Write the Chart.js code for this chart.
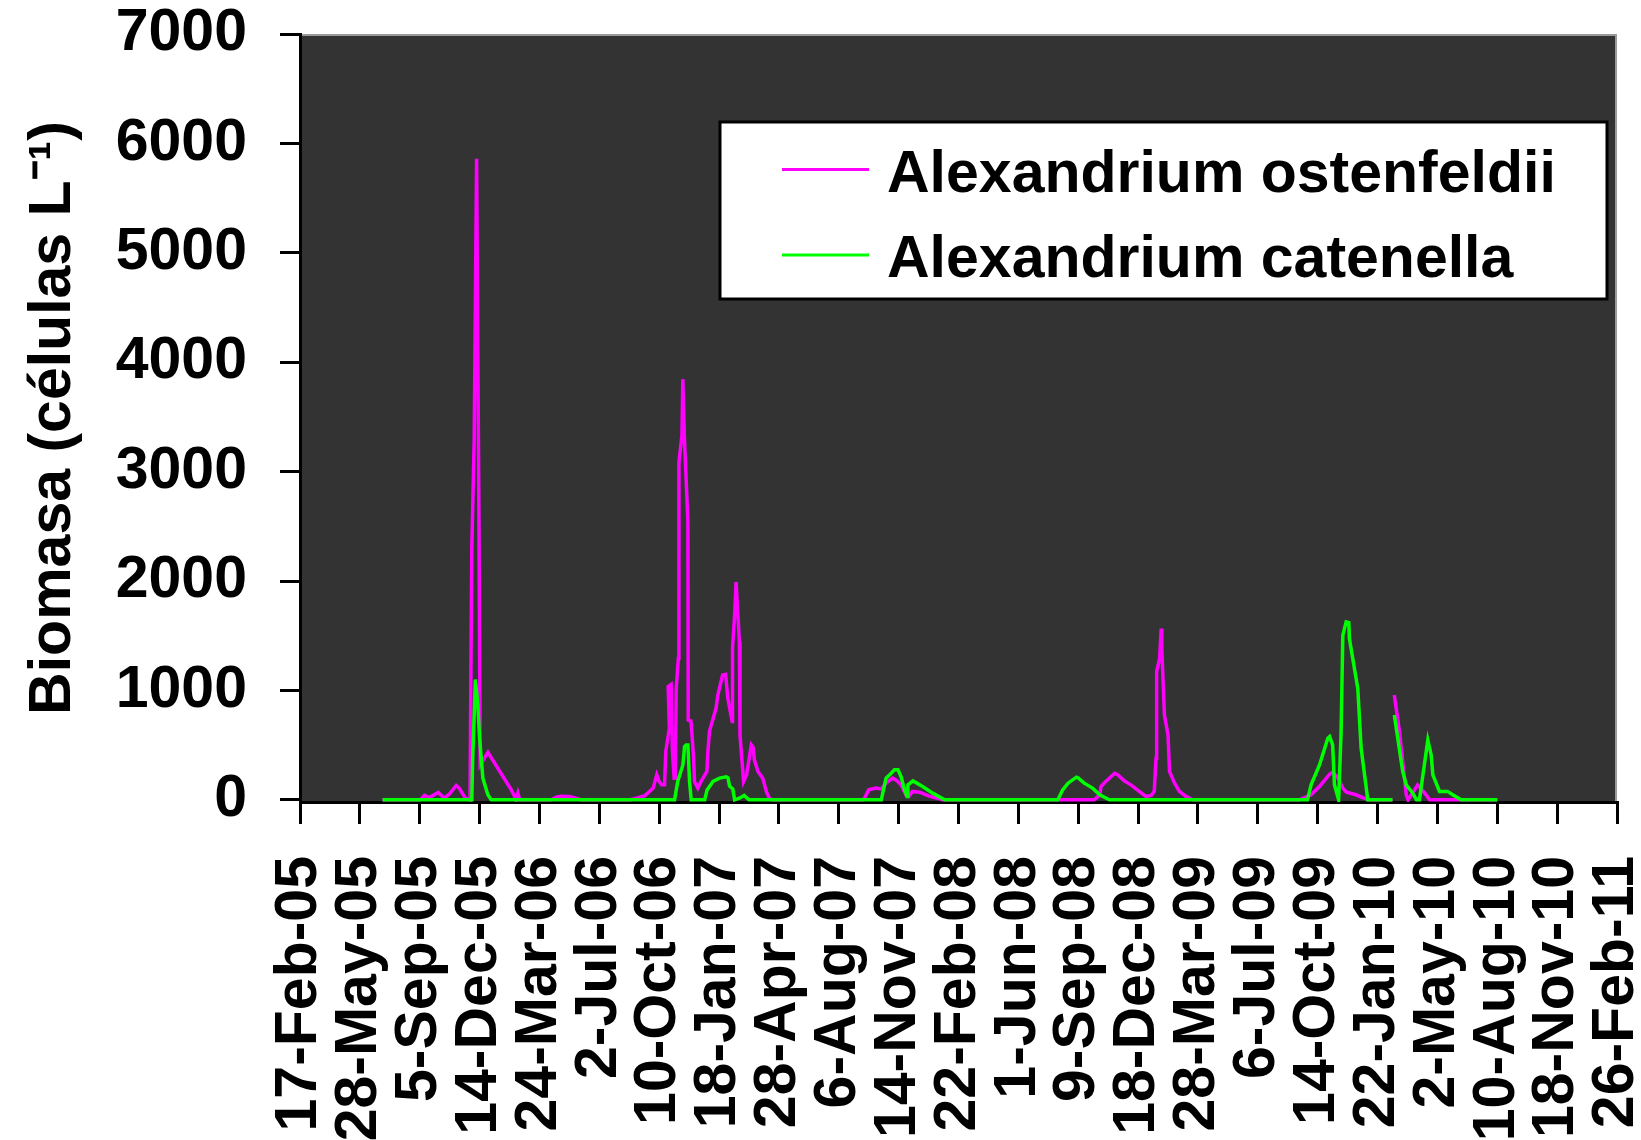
<!DOCTYPE html>
<html><head><meta charset="utf-8">
<script src="https://cdn.jsdelivr.net/npm/chart.js@4/dist/chart.umd.min.js"></script>
<style>html,body{margin:0;padding:0;background:#fff;}#wrap{width:1641px;height:1140px;}</style>
</head><body><div id="wrap"><canvas id="c" width="1641" height="1140"></canvas></div>
<script>
// x values: days since 17-Feb-2005
const tickLabels = ['17-Feb-05','28-May-05','5-Sep-05','14-Dec-05','24-Mar-06','2-Jul-06','10-Oct-06','18-Jan-07','28-Apr-07','6-Aug-07','14-Nov-07','22-Feb-08','1-Jun-08','9-Sep-08','18-Dec-08','28-Mar-09','6-Jul-09','14-Oct-09','22-Jan-10','2-May-10','10-Aug-10','18-Nov-10','26-Feb-11'];
const yTicks = [0,1000,2000,3000,4000,5000,6000,7000];
const seriesNames = ['Alexandrium ostenfeldii','Alexandrium catenella'];

const ostenfeldiiDays = [138,200,203,208,216,231,241,250,261,266,276,284,287,291,295,299,301,314,353,361,364,367,420,428,436,450,458,470,552,562,576,590,596,600,604,609,611,617,615,620,622,625,627,628.5,632,633,638,639.5,642,648,648.5,653,654,657.5,659,664.6,670,679.7,681.4,684,695,698,706,711,714.7,722,722.5,726,728.5,734,735,741,746,754,757,759,765,773,779,784,788,940,943,950,962,971,979,990,996,1004,1012,1017,1023,1035,1052,1065,1072,1327,1336,1338,1347,1361,1366,1377,1388,1402,1413,1422,1427,1430,1431,1436,1438.6,1439.6,1444,1450,1452.5,1461,1469,1480,1491,1669,1689,1703,1720,1725,1734,1742,1748,1764,1784,1825,1826.5,1828,1836.6,1843,1848,1851,1862,1867,1872,1881,1887,2000];
const ostenfeldiiCells = [0,0,10,40,20,67,15,55,131,107,15,0,2300,3300,5860,2500,319,435,91,0,60,0,0,25,32,30,20,0,0,15,37,107,228,168,137,137,441,654,1034,1055,456,198,198,1018,1292,3086,3328,3845,3328,2538,730,720,660,380,168,107,168,259,441,626,836,957,1140,1146,927,715,1383,1687,1991,1444,593,168,228,502,480,365,259,198,77,15,0,0,15,91,107,100,152,198,180,137,46,30,77,70,31,15,0,0,46,122,173,243,230,173,137,77,31,40,77,380,1171,1292,1566,1383,775,593,259,152,77,31,0,0,46,122,234,253,198,107,70,46,0,0,null,957,624,300,46,0,91,137,107,46,0,0];

const catenellaDays = [138,287,288.5,293,297,300,305.5,313.8,319.5,625.7,631,639.6,642.4,645,648,650.7,653.5,676,680,690,701,712,715,717.5,723,726,734,742,750,971,979,985,993,999,1004,1010,1014,1015.5,1024,1040,1057,1077,1266,1274,1283,1297,1300,1310,1324,1336,1352,1683,1689,1703,1717,1720,1725,1728,1735,1739,1742,1747.6,1752,1753,1767,1772.6,1783.7,1825,1826.5,1828,1842,1848,1859,1865,1870,1884,1889.6,1892.4,1903.5,1917,1925.7,1939.7,2000];
const catenellaCells = [0,0,380,1100,866,563,198,46,0,0,168,319,487,502,502,168,0,0,90,168,198,210,200,125,100,0,15,40,0,0,198,228,274,274,213,91,31,137,173,122,61,0,0,91,152,207,200,152,107,46,0,0,137,319,563,578,502,137,0,593,1505,1627,1620,1474,1018,471,0,0,null,775,259,137,61,0,0,547,410,228,77,77,46,0,0];

const FONT = "'Liberation Sans', Arial, sans-serif";
const toPts = (xs, ys) => xs.map((x, i) => ({x: x, y: ys[i]}));

const bgPlugin = {
  id: 'bg',
  beforeDraw(chart) {
    const {ctx, chartArea: a} = chart;
    ctx.save();
    ctx.fillStyle = '#333333';
    ctx.fillRect(a.left, a.top, a.right - a.left, a.bottom - a.top);
    ctx.strokeStyle = '#9a9a9a';
    ctx.lineWidth = 2;
    ctx.beginPath();
    ctx.moveTo(a.left, a.top + 1);
    ctx.lineTo(a.right - 1, a.top + 1);
    ctx.lineTo(a.right - 1, a.bottom);
    ctx.stroke();
    ctx.restore();
  }
};

const legendPlugin = {
  id: 'boxLegend',
  afterDraw(chart) {
    const ctx = chart.ctx;
    ctx.save();
    ctx.fillStyle = '#ffffff';
    ctx.fillRect(720, 122, 887, 177);
    ctx.strokeStyle = '#000000';
    ctx.lineWidth = 3;
    ctx.strokeRect(720, 122, 887, 177);
    const rows = [169.5, 255];
    chart.data.datasets.forEach((ds, i) => {
      ctx.strokeStyle = ds.borderColor;
      ctx.lineWidth = 3;
      ctx.beginPath();
      ctx.moveTo(782, rows[i]);
      ctx.lineTo(869, rows[i]);
      ctx.stroke();
      ctx.fillStyle = '#000';
      ctx.font = 'bold 59px ' + FONT;
      ctx.textBaseline = 'alphabetic';
      ctx.textAlign = 'left';
      ctx.fillText(ds.label, 887, rows[i] + 22);
    });
    ctx.restore();
  }
};

new Chart(document.getElementById('c'), {
  type: 'line',
  data: {
    datasets: [
      {label: seriesNames[0], data: toPts(ostenfeldiiDays, ostenfeldiiCells), borderColor: '#ff00ff', borderWidth: 3.5, pointRadius: 0, tension: 0, spanGaps: false, order: 1},
      {label: seriesNames[1], data: toPts(catenellaDays, catenellaCells), borderColor: '#00ff00', borderWidth: 3.5, pointRadius: 0, tension: 0, spanGaps: false, order: 0}
    ]
  },
  options: {
    responsive: false,
    animation: false,
    devicePixelRatio: 1,
    layout: {padding: {top: 34, right: 24, left: 0, bottom: 0}},
    plugins: {legend: {display: false}, tooltip: {enabled: false}},
    scales: {
      x: {
        type: 'linear', min: 0, max: 2200, z: 1,
        afterBuildTicks: s => { s.ticks = tickLabels.map((_, i) => ({value: i * 100})); },
        afterFit: s => { s.height = 338; s.paddingLeft = 0; s.paddingRight = 0; },
        border: {display: true, color: '#000', width: 3},
        grid: {drawOnChartArea: false, drawTicks: true, tickLength: 22, tickColor: '#000', tickWidth: 3, color: '#000', lineWidth: 3},
        ticks: {autoSkip: false, minRotation: 90, maxRotation: 90, padding: 32, color: '#000',
          font: {family: FONT, size: 59, weight: 'bold'},
          callback: (v, i) => tickLabels[i]}
      },
      y: {
        min: -20, max: 7000,
        afterBuildTicks: s => { s.ticks = yTicks.map(v => ({value: v})); },
        afterFit: s => { s.width = 300; s.paddingTop = 0; s.paddingBottom = 0; },
        border: {display: true, color: '#000', width: 3},
        grid: {drawOnChartArea: false, drawTicks: true, tickLength: 20, tickColor: '#000', tickWidth: 3, color: '#000', lineWidth: 3},
        ticks: {padding: 33, color: '#000', font: {family: FONT, size: 59, weight: 'bold'}, callback: v => String(v)},
        title: {display: true, text: 'Biomasa (células L⁻¹)', color: '#000', font: {family: FONT, size: 59, weight: 'bold'}, padding: {top: 18, bottom: 0}}
      }
    }
  },
  plugins: [bgPlugin, legendPlugin]
});
</script></body></html>
